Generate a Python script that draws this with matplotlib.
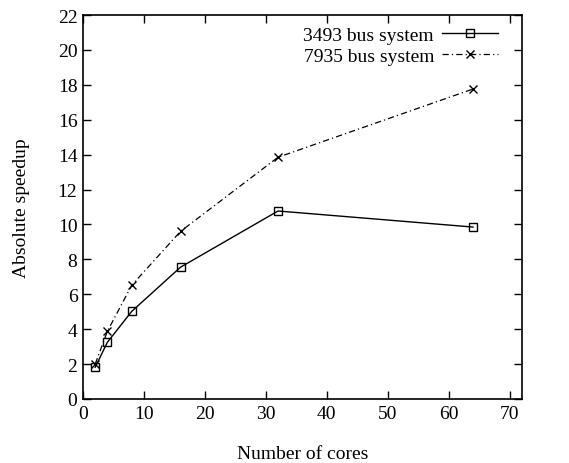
import matplotlib
matplotlib.use('Agg')
import matplotlib.pyplot as plt

# 資料
cores = [2, 4, 8, 16, 32, 64]
speedup_3493 = [1.82, 3.25, 5.02, 7.55, 10.77, 9.85]
speedup_7935 = [2.0, 3.88, 6.52, 9.6, 13.85, 17.76]
xticks = [0, 10, 20, 30, 40, 50, 60, 70]
yticks = [0, 2, 4, 6, 8, 10, 12, 14, 16, 18, 20, 22]

plt.rcParams['font.family'] = ['Liberation Serif', 'DejaVu Serif']
plt.rcParams['font.size'] = 14

fig = plt.figure(figsize=(5.69, 4.64), dpi=100)
ax = fig.add_axes([0.1459, 0.138, 0.917 - 0.1459, 0.9655 - 0.138])

ax.plot(cores, speedup_3493, color='black', lw=1.0, marker='s', ms=5.2,
        mfc='none', mec='black', mew=1.0, label='3493 bus system')
ax.plot(cores, speedup_7935, color='black', lw=0.9, marker='x', ms=5.2,
        mew=1.0, dashes=(5, 2.5, 1, 2.5), label='7935 bus system')

ax.set_xlim(0, 72)
ax.set_ylim(0, 22)
ax.set_xticks(xticks)
ax.set_yticks(yticks)
ax.tick_params(direction='in', top=True, right=True, length=6, width=1, pad=4)
for s in ax.spines.values():
    s.set_linewidth(1.2)

ax.set_xlabel('Number of cores', labelpad=17)
ax.set_ylabel('Absolute speedup', labelpad=20)

ax.legend(loc='upper right', bbox_to_anchor=(0.964, 0.99), frameon=False,
          markerfirst=False, handlelength=2.9, borderaxespad=0,
          labelspacing=0.15, handletextpad=0.4)

fig.savefig('out.png', dpi=100)
